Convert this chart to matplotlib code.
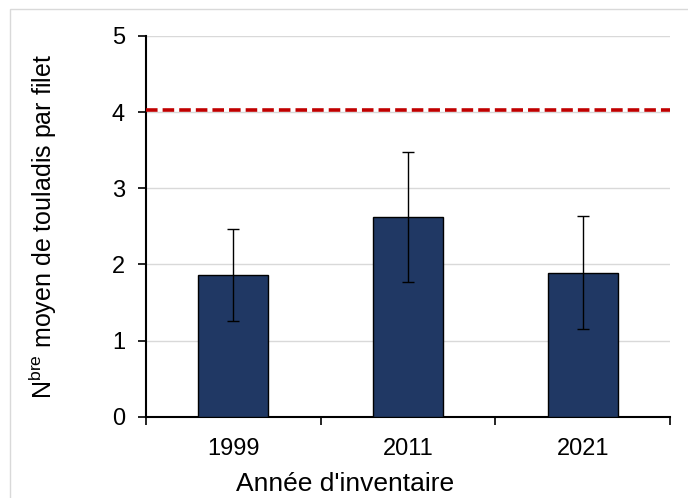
import matplotlib
matplotlib.use("Agg")
import matplotlib.pyplot as plt
from matplotlib.patches import Rectangle
import numpy as np

plt.rcParams['font.family'] = ['Liberation Sans', 'DejaVu Sans']
plt.rcParams['mathtext.fontset'] = 'custom'
plt.rcParams['mathtext.rm'] = 'Liberation Sans'

years = ['1999', '2011', '2021']
moyennes = [1.86, 2.62, 1.89]
err_haut = [2.46, 3.47, 2.64]
err_bas = [1.255, 1.765, 1.15]
seuil = 4.03

fig = plt.figure(figsize=(6.88, 4.98), dpi=100)
ax = fig.add_axes([0.212, 0.163, 0.762, 0.765])

x = np.arange(len(years))
moy = np.array(moyennes)
yerr = [moy - np.array(err_bas), np.array(err_haut) - moy]

ax.bar(x, moy, width=0.4, color='#203864', edgecolor='black', linewidth=1, zorder=3)
ax.errorbar(x, moy, yerr=yerr, fmt='none', ecolor='black', elinewidth=1,
            capsize=4, capthick=1, zorder=4)
ax.axhline(seuil, color='#C00000', linestyle=(0, (3.2, 1.4)), linewidth=2.6, zorder=5)

ax.set_xlim(-0.5, 2.5)
ax.set_ylim(0, 5)
ax.set_yticks(range(6))
ax.yaxis.grid(True, color='#d9d9d9', linewidth=1, zorder=0)
ax.set_axisbelow(True)

ax.set_xticks(x)
ax.set_xticklabels(years)
ax.set_xticks([-0.5, 0.5, 1.5, 2.5], minor=True)
ax.tick_params(axis='x', which='major', length=0, labelsize=17, pad=15)
ax.tick_params(axis='x', which='minor', length=6, width=1.2, direction='out')
ax.tick_params(axis='y', length=6, width=1.2, labelsize=17, pad=9)

for s in ['top', 'right']:
    ax.spines[s].set_visible(False)
ax.spines['left'].set_linewidth(1.5)
ax.spines['bottom'].set_linewidth(1.5)

ax.set_xlabel("Année d'inventaire", fontsize=19)
ax.xaxis.set_label_coords(0.38, -0.145)
ax.set_ylabel(r"N$^{\mathrm{bre}}$ moyen de touladis par filet", fontsize=18, labelpad=38)

fig.patches.append(Rectangle((10 / 688, -0.1), 2, 1 - 9 / 498 + 0.1,
                             transform=fig.transFigure, fill=False,
                             edgecolor='#d9d9d9', linewidth=1))

fig.savefig('out.png', dpi=100)
